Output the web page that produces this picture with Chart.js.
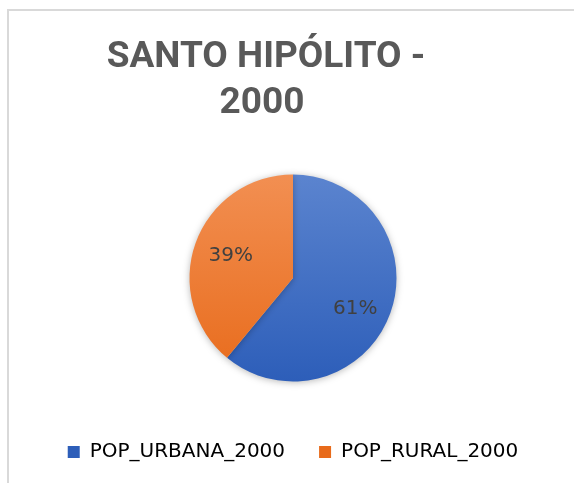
<!DOCTYPE html>
<html>
<head>
<meta charset="utf-8">
<script src="https://cdn.jsdelivr.net/npm/chart.js@4"></script>
<style>
  html, body { margin: 0; padding: 0; background: #fff; }
  #wrap { position: relative; width: 574px; height: 483px; overflow: hidden; }
  #frame { position: absolute; left: 7px; top: 9px; width: 700px; height: 700px; border: 2px solid #d9d9d9; box-sizing: border-box; }
  canvas { position: absolute; left: 0; top: 0; }
</style>
</head>
<body>
<div id="wrap">
  <div id="frame"></div>
  <canvas id="pie" width="574" height="483"></canvas>
</div>
<script>
const titleLines = ['SANTO HIPÓLITO -', '2000'];
const categories = ['POP_URBANA_2000', 'POP_RURAL_2000'];
const shares     = [61, 39];

// Excel-like gradient fills (top light, bottom dark)
const gradStops = [
  ['#5b84cf', '#2d5eb9'],
  ['#f28f52', '#e86b1b']
];
const pieRadius = 103.5;

function sliceFill(ctx) {
  const chart = ctx.chart;
  const area = chart.chartArea;
  if (!area || !isFinite(area.top) || !isFinite(area.bottom)) return gradStops[ctx.dataIndex][0];
  const cy = (area.top + area.bottom) / 2;
  const g = chart.ctx.createLinearGradient(0, cy - pieRadius, 0, cy + pieRadius);
  g.addColorStop(0, gradStops[ctx.dataIndex][0]);
  g.addColorStop(1, gradStops[ctx.dataIndex][1]);
  return g;
}

// Title drawn by hand: in the original it sits left of the pie centre
const titlePlugin = {
  id: 'titleBlock',
  afterDraw(chart) {
    const c = chart.ctx;
    c.save();
    c.font = 'bold 37px Roboto';
    c.fillStyle = '#595959';
    c.textAlign = 'center';
    c.textBaseline = 'alphabetic';
    c.fillText(titleLines[0], 266, 67);
    c.fillText(titleLines[1], 262, 113);
    c.restore();
  }
};

// soft shadow under the pie
const shadowPlugin = {
  id: 'pieShadow',
  beforeDatasetsDraw(chart) {
    const c = chart.ctx;
    c.save();
    c.shadowColor = 'rgba(0,0,0,0.28)';
    c.shadowBlur = 7;
    c.shadowOffsetX = 0;
    c.shadowOffsetY = 1;
  },
  afterDatasetsDraw(chart) {
    chart.ctx.restore();
  }
};

const pctLabels = {
  id: 'pctLabels',
  afterDatasetsDraw(chart) {
    const c = chart.ctx;
    const data = chart.data.datasets[0].data;
    const total = data.reduce((s, v) => s + v, 0);
    c.save();
    c.font = '20px "DejaVu Sans"';
    c.fillStyle = '#404040';
    c.textAlign = 'center';
    c.textBaseline = 'middle';
    chart.getDatasetMeta(0).data.forEach((arc, i) => {
      const mid = (arc.startAngle + arc.endAngle) / 2;
      const rr = arc.outerRadius * 0.64;
      const x = arc.x + Math.cos(mid) * rr;
      const y = arc.y + Math.sin(mid) * rr + (i === 0 ? 8 : 0);
      c.fillText(Math.round(data[i] / total * 100) + '%', x, y);
    });
    c.restore();
  }
};

new Chart(document.getElementById('pie'), {
  type: 'pie',
  data: {
    labels: categories,
    datasets: [{
      data: shares,
      backgroundColor: sliceFill,
      borderWidth: 0,
      radius: pieRadius
    }]
  },
  options: {
    responsive: false,
    animation: false,
    layout: { padding: { top: 148, left: 12, right: 0, bottom: 11 } },
    plugins: {
      title: { display: false },
      tooltip: { enabled: false },
      legend: {
        position: 'bottom',
        labels: {
          boxWidth: 12,
          boxHeight: 12,
          padding: 34,
          color: '#595959',
          font: { size: 20, family: '"DejaVu Sans"' },
          generateLabels(chart) {
            return categories.map((name, i) => ({
              text: name,
              fillStyle: gradStops[i][1],
              strokeStyle: gradStops[i][1],
              lineWidth: 0,
              index: i
            }));
          }
        }
      }
    }
  },
  plugins: [titlePlugin, shadowPlugin, pctLabels]
});
</script>
</body>
</html>
